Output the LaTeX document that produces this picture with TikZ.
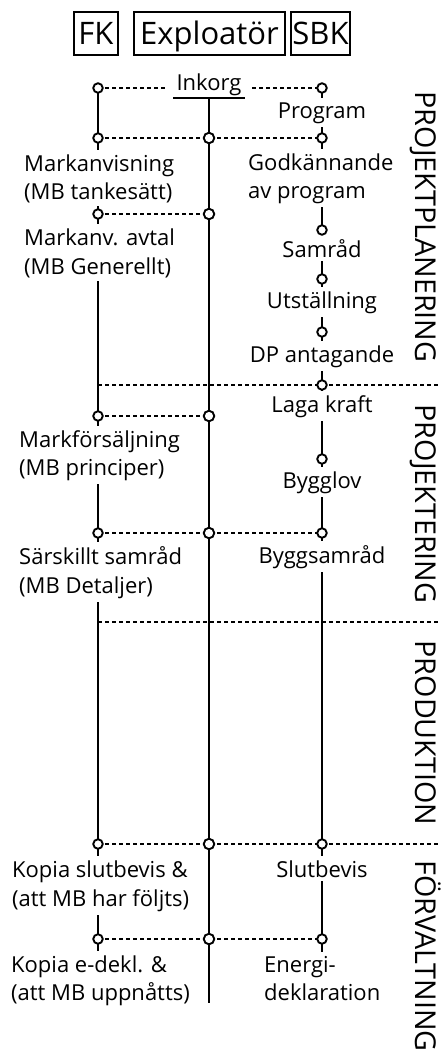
\documentclass[tikz,border=0pt]{standalone}
\usepackage{fontspec}
\setmainfont{Open Sans}
\begin{document}
\begin{tikzpicture}[x=1pt,y=-1pt,
  solidln/.style={line width=2.3pt},
  exln/.style={line width=2.7pt},
  dln/.style={line width=1.6pt, dash pattern=on 4pt off 3pt},
  dot/.style={circle, draw, line width=1.9pt, fill=white, inner sep=0pt, minimum size=9.5pt},
  exdot/.style={dot, minimum size=10.5pt},
  lbl/.style={font=\fontsize{22}{26}\selectfont, inner sep=0pt, outer ysep=4pt},
  head/.style={draw, line width=1.3pt, font=\fontsize{31}{36}\selectfont, inner sep=0pt,
     minimum height=43pt, text height=22pt, text depth=0pt},
  phase/.style={font=\fontsize{28.7}{34}\selectfont, rotate=-90, inner sep=0pt,
     text height=20.5pt, text depth=0pt}
]
\useasboundingbox (0,0) rectangle (441,1052);

% headers
\node[head, minimum width=44pt] (hfk) at (96,33.5) {FK};
\node[head, minimum width=151pt] (hex) at (209.5,33.5) {Exploatör};
\node[head, minimum width=59pt] (hsb) at (320.5,33.5) {SBK};

% phase labels
\node[phase] (ph1) at (426,227) {PROJEKTPLANERING};
\node[phase] (ph2) at (426,504) {PROJEKTERING};
\node[phase] (ph3) at (426,733) {PRODUKTION};
\node[phase, anchor=west] (ph4) at (426,860) {FÖRVALTNING};

% coordinates
\coordinate (ulL) at (173,98);
\coordinate (ulR) at (245,98);
\coordinate (exTop) at (209,98);
\coordinate (exBot) at (209,1003);
\coordinate (dvA) at (98,385);
\coordinate (dvAr) at (441,385);
\coordinate (dvB) at (98,622);
\coordinate (dvBr) at (441,622);
\coordinate (edge5) at (441,844);

% circle positions
\foreach \n/\y in {fk0/88,fk1/138,fk2/214,fk3/416,fk4/533,fk5/844,fk6/939}
  \coordinate (\n) at (98,\y);
\foreach \n/\y in {ex1/138,ex2/214,ex3/416,ex4/533,ex5/844,ex6/939}
  \coordinate (\n) at (209,\y);
\foreach \n/\y in {sb0/88,sb1/138,sb2/230,sb3/279,sb4/332,sb5/385,sb6/459,sb7/533,sb8/844,sb9/939}
  \coordinate (\n) at (322,\y);

% texts
\node[lbl, anchor=base, outer xsep=11pt] (inkorg) at (209,90) {Inkorg};

\node[lbl, anchor=base] (program) at (322,118) {Program};
\node[lbl, anchor=base west] (godk1) at (248,170) {Godkännande};
\node[lbl, anchor=base west] (godk2) at (248,198) {av program};
\node[lbl, anchor=base] (samrad) at (322,257) {Samråd};
\node[lbl, anchor=base] (utst) at (322,308) {Utställning};
\node[lbl, anchor=base] (dp) at (322,362) {DP antagande};
\node[lbl, anchor=base] (laga) at (322,412) {Laga kraft};
\node[lbl, anchor=base] (bygglov) at (322,488) {Bygglov};
\node[lbl, anchor=base] (byggsam) at (322,563) {Byggsamråd};
\node[lbl, anchor=base] (slutbevis) at (322,877) {Slutbevis};
\node[lbl, anchor=base west] (energi1) at (264,972) {Energi-};
\node[lbl, anchor=base west] (energi2) at (264,1000) {deklaration};

\node[lbl, anchor=base west] (mark1) at (24,171) {Markanvisning};
\node[lbl, anchor=base west] (mark2) at (24,199) {(MB tankesätt)};
\node[lbl, anchor=base west] (avtal1) at (24,245) {Markanv. avtal};
\node[lbl, anchor=base west] (avtal2) at (24,274) {(MB Generellt)};
\node[lbl, anchor=base west] (mf1) at (19,447) {Markförsäljning};
\node[lbl, anchor=base west] (mf2) at (19,475) {(MB principer)};
\node[lbl, anchor=base west] (sars1) at (19,564) {Särskillt samråd};
\node[lbl, anchor=base west] (sars2) at (19,593) {(MB Detaljer)};
\node[lbl, anchor=base west] (kop1) at (12,877) {Kopia slutbevis \&};
\node[lbl, anchor=base west] (kop2) at (12,906) {(att MB har följts)};
\node[lbl, anchor=base west] (ked1) at (11,972) {Kopia e-dekl. \&};
\node[lbl, anchor=base west] (ked2) at (11,1000) {(att MB uppnåtts)};

% Exploatör line
\draw[solidln] (ulL) -- (ulR);
\draw[exln] (exTop) -- (exBot);

% FK lines
\draw[solidln] (fk0) -- (fk1) -- (fk1 |- mark1.north);
\draw[solidln] (fk2 |- mark2.south) -- (fk2) -- (fk2 |- avtal1.north);
\draw[solidln] (fk3 |- avtal2.south) -- (fk3) -- (fk3 |- mf1.north);
\draw[solidln] (fk4 |- mf2.south) -- (fk4) -- (fk4 |- sars1.north);
\draw[solidln] (fk5 |- sars2.south) -- (fk5) -- (fk5 |- kop1.north);
\draw[solidln] (fk6 |- kop2.south) -- (fk6) -- (fk6 |- ked1.north);

% SBK lines
\draw[solidln] (sb0) -- (program.north);
\draw[solidln] (program.south) -- (sb1) -- (sb1 |- godk1.north);
\draw[solidln] (sb2 |- godk2.south) -- (sb2) -- (samrad.north);
\draw[solidln] (samrad.south) -- (sb3) -- (utst.north);
\draw[solidln] (utst.south) -- (sb4) -- (dp.north);
\draw[solidln] (dp.south) -- (sb5) -- (laga.north);
\draw[solidln] (laga.south) -- (sb6) -- (bygglov.north);
\draw[solidln] (bygglov.south) -- (sb7) -- (byggsam.north);
\draw[solidln] (byggsam.south) -- (sb8) -- (slutbevis.north);
\draw[solidln] (slutbevis.south) -- (sb9) -- (sb9 |- energi1.north);

% dashed connections
\draw[dln] (fk0) -- (fk0 -| inkorg.west);
\draw[dln] (sb0 -| inkorg.east) -- (sb0);
\draw[dln] (fk1) -- (ex1) -- (sb1);
\draw[dln] (fk2) -- (ex2);
\draw[dln] (dvA) -- (dvAr);
\draw[dln] (fk3) -- (ex3);
\draw[dln] (fk4) -- (ex4) -- (sb7);
\draw[dln] (dvB) -- (dvBr);
\draw[dln] (fk5) -- (ex5) -- (sb8) -- (edge5);
\draw[dln] (fk6) -- (ex6) -- (sb9);

% circle nodes
\foreach \n in {fk0,fk1,fk2,fk3,fk4,fk5,fk6,sb0,sb1,sb2,sb3,sb4,sb5,sb6,sb7,sb8,sb9}
  \node[dot] (c\n) at (\n) {};
\foreach \n in {ex1,ex2,ex3,ex4,ex5,ex6}
  \node[exdot] (c\n) at (\n) {};
\end{tikzpicture}
\end{document}
